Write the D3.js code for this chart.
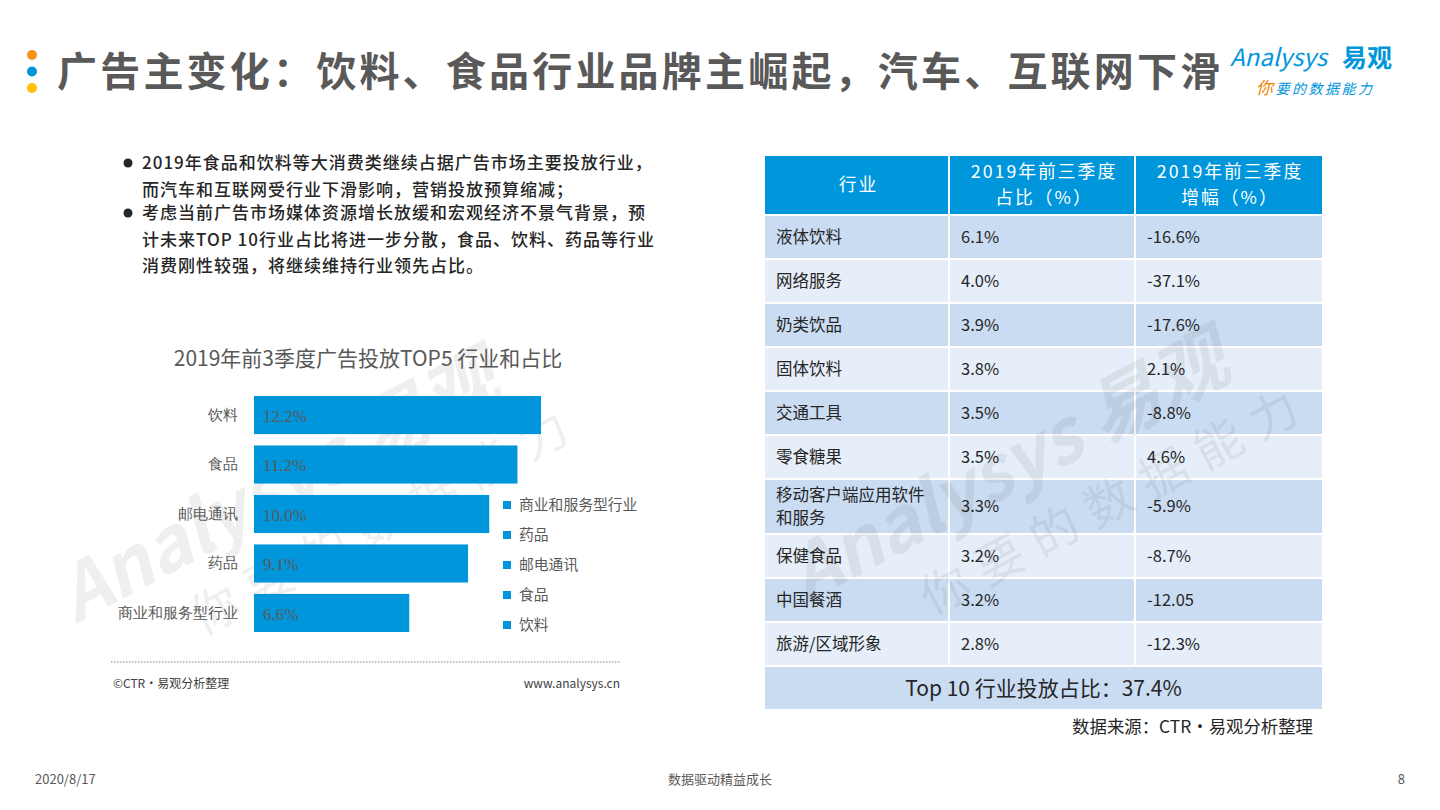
<!DOCTYPE html>
<html>
<head>
  <meta charset="utf-8">
  <script src="https://d3js.org/d3.v7.min.js"></script>
  <style>
    body { margin: 0; background: #fff; }
    svg { display: block; font-family: "Noto Sans CJK SC", "Noto Sans", sans-serif; }
    .cat-label { font-size: 15px; fill: #595959; text-anchor: end; }
    .val-label { font: 17px "Liberation Serif", serif; fill: #595959; }
    .legend-label { font-size: 14.8px; fill: #595959; }
    .bullet { font-size: 17px; fill: #262626; font-weight: 500; letter-spacing: 1px; }
    .cell { font-size: 16.5px; fill: #262626; }
    .head { font-size: 17.8px; fill: #fff; text-anchor: middle; letter-spacing: 2px; }
  </style>
</head>
<body>
  <svg width="1440" height="810"></svg>
  <script>
    var svg = d3.select("svg");

    // bar chart data
    var industries = ["饮料", "食品", "邮电通讯", "药品", "商业和服务型行业"];
    var shares = [12.2, 11.2, 10.0, 9.1, 6.6];

    // table data
    var tableHeaders = [["行业"], ["2019年前三季度", "占比（%）"], ["2019年前三季度", "增幅（%）"]];
    var tableIndustries = [["液体饮料"], ["网络服务"], ["奶类饮品"], ["固体饮料"], ["交通工具"], ["零食糖果"],
                           ["移动客户端应用软件", "和服务"], ["保健食品"], ["中国餐酒"], ["旅游/区域形象"]];
    var tableShares = ["6.1%", "4.0%", "3.9%", "3.8%", "3.5%", "3.5%", "3.3%", "3.2%", "3.2%", "2.8%"];
    var tableGrowth = ["-16.6%", "-37.1%", "-17.6%", "2.1%", "-8.8%", "4.6%", "-5.9%", "-8.7%", "-12.05", "-12.3%"];
    var tableTotal = "Top 10 行业投放占比：37.4%";

    var bullets = [
      ["2019年食品和饮料等大消费类继续占据广告市场主要投放行业，", "而汽车和互联网受行业下滑影响，营销投放预算缩减；"],
      ["考虑当前广告市场媒体资源增长放缓和宏观经济不景气背景，预", "计未来TOP 10行业占比将进一步分散，食品、饮料、药品等行业", "消费刚性较强，将继续维持行业领先占比。"]
    ];

    var blue = "#0096DC";

    function watermark(cx, cy) {
      var w = svg.append("g")
        .attr("transform", "translate(" + cx + "," + cy + ") rotate(-28)")
        .attr("fill", "#000").attr("opacity", 0.06)
        .style("pointer-events", "none");
      w.append("text").attr("x", -40).attr("y", -10).attr("text-anchor", "middle")
        .attr("font-size", 74).attr("font-weight", "bold").attr("font-style", "italic").text("Analysys 易观");
      w.append("text").attr("x", 40).attr("y", 60).attr("text-anchor", "middle")
        .attr("font-size", 48).attr("letter-spacing", 14).text("你要的数据能力");
    }

    // multi-line text in one element, lines centred on cy
    function multiline(sel, lines, xPos, cy, lh) {
      var t = sel.append("text").attr("x", xPos).attr("y", cy);
      lines.forEach(function(line, j) {
        t.append("tspan").attr("x", xPos)
          .attr("y", cy + (j - (lines.length - 1) / 2) * lh)
          .attr("dy", "0.36em").text(line);
      });
      return t;
    }

    watermark(330, 500);

    // title
    var dotColors = ["#F7941D", blue, "#FFC000"];
    svg.selectAll(".dot").data(dotColors).enter().append("circle")
      .attr("cx", 32).attr("cy", (d, i) => 55 + i * 16.5).attr("r", 5).attr("fill", d => d);
    svg.append("text").attr("x", 57).attr("y", 86)
      .attr("font-size", 40).attr("font-weight", "bold").attr("fill", "#595959").attr("letter-spacing", 3.2)
      .text("广告主变化：饮料、食品行业品牌主崛起，汽车、互联网下滑");

    // logo
    svg.append("text").attr("x", 1230).attr("y", 66).attr("font-size", 24).attr("fill", blue)
      .attr("font-style", "italic").text("Analysys");
    svg.append("text").attr("x", 1342).attr("y", 67).attr("font-size", 25).attr("font-weight", "bold").attr("fill", blue)
      .text("易观");
    var slogan = svg.append("text").attr("x", 1256).attr("y", 94).attr("font-size", 14).attr("font-style", "italic")
      .attr("letter-spacing", 2.5).attr("fill", blue);
    slogan.append("tspan").attr("fill", "#F08300").attr("font-size", 17).text("你");
    slogan.append("tspan").text("要的数据能力");

    // bullets
    var by = [169, 219];
    bullets.forEach(function(lines, i) {
      svg.append("circle").attr("cx", 128).attr("cy", by[i] - 6).attr("r", 4.5).attr("fill", "#262626");
      lines.forEach(function(t, j) {
        svg.append("text").attr("class", "bullet").attr("x", 142).attr("y", by[i] + j * 26.5).text(t);
      });
    });

    // bar chart
    svg.append("text").attr("x", 368).attr("y", 366).attr("text-anchor", "middle")
      .attr("font-size", 21).attr("fill", "#595959").text("2019年前3季度广告投放TOP5 行业和占比");

    var x = d3.scaleLinear().domain([0, 12.2]).range([254, 541]);
    var y = d3.scaleBand().domain(industries).range([390.3, 637.7]).paddingInner(0.23).paddingOuter(0.115);
    var data = industries.map((d, i) => ({name: d, value: shares[i]}));

    svg.selectAll(".bar").data(data).enter().append("rect")
      .attr("class", "bar")
      .attr("x", x(0))
      .attr("y", d => y(d.name))
      .attr("width", d => x(d.value) - x(0))
      .attr("height", y.bandwidth())
      .attr("fill", blue);

    svg.selectAll(".val-label").data(data).enter().append("text")
      .attr("class", "val-label")
      .attr("x", x(0) + 9)
      .attr("y", d => y(d.name) + y.bandwidth() / 2)
      .attr("dy", ".4em")
      .text(d => d3.format(".1f")(d.value) + "%");

    svg.append("g")
      .attr("transform", "translate(" + (x(0) - 6) + ",0)")
      .call(d3.axisLeft(y).tickSize(0).tickPadding(10))
      .call(g => g.select(".domain").remove())
      .selectAll("text")
      .attr("class", "cat-label")
      .attr("font-family", null).attr("font-size", null).attr("fill", null);

    // legend
    var legendItems = industries.slice().reverse();
    var legend = svg.selectAll(".legend").data(legendItems).enter().append("g")
      .attr("transform", (d, i) => "translate(503," + (505 + i * 30) + ")");
    legend.append("rect").attr("x", 0).attr("y", -4).attr("width", 8).attr("height", 8).attr("fill", blue);
    legend.append("text").attr("class", "legend-label").attr("x", 16).attr("dy", "0.35em").text(d => d);

    // chart footer
    svg.append("line").attr("x1", 111).attr("x2", 620).attr("y1", 662).attr("y2", 662)
      .attr("stroke", "#aaa").attr("stroke-width", 1.5).attr("stroke-dasharray", "1.5,1.5");
    svg.append("text").attr("x", 113).attr("y", 688).attr("font-size", 12).attr("fill", "#404040").text("©CTR·易观分析整理");
    svg.append("text").attr("x", 620).attr("y", 688).attr("text-anchor", "end").attr("font-size", 12).attr("fill", "#404040").text("www.analysys.cn");

    // table
    var cols = [765, 950, 1136, 1322];
    var tx = d3.scaleOrdinal().domain([0, 1, 2]).range([776, 961, 1147]);
    var headTop = 156, headH = 58, gap = 2;
    for (var c = 0; c < 3; c++) {
      svg.append("rect").attr("x", cols[c]).attr("y", headTop).attr("width", cols[c + 1] - cols[c] - (c < 2 ? 2 : 0))
        .attr("height", headH).attr("fill", blue);
      multiline(svg, tableHeaders[c], (cols[c] + cols[c + 1]) / 2 + 1, headTop + headH / 2, 26).attr("class", "head");
    }
    var rowY = headTop + headH + gap;
    tableIndustries.forEach(function(names, i) {
      var h = names.length > 1 ? 53 : 42;
      var fill = i % 2 === 0 ? "#CADCF2" : "#E6EEF9";
      for (var c = 0; c < 3; c++) {
        svg.append("rect").attr("x", cols[c]).attr("y", rowY).attr("width", cols[c + 1] - cols[c] - (c < 2 ? 2 : 0))
          .attr("height", h).attr("fill", fill);
      }
      var cy = rowY + h / 2;
      multiline(svg, names, tx(0), cy, 23).attr("class", "cell");
      svg.append("text").attr("class", "cell").attr("x", tx(1)).attr("y", cy).attr("dy", "0.36em").text(tableShares[i]);
      svg.append("text").attr("class", "cell").attr("x", tx(2)).attr("y", cy).attr("dy", "0.36em").text(tableGrowth[i]);
      rowY += h + gap;
    });
    svg.append("rect").attr("x", cols[0]).attr("y", rowY).attr("width", cols[3] - cols[0]).attr("height", 42).attr("fill", "#CADCF2");
    svg.append("text").attr("x", (cols[0] + cols[3]) / 2).attr("y", rowY + 21).attr("dy", "0.36em")
      .attr("text-anchor", "middle").attr("font-size", 21).attr("fill", "#262626").text(tableTotal);

    svg.append("text").attr("x", 1313).attr("y", 733).attr("text-anchor", "end").attr("font-size", 17.4)
      .attr("fill", "#262626").text("数据来源：CTR·易观分析整理");

    watermark(1060, 480);

    // page footer
    svg.append("text").attr("x", 35).attr("y", 784).attr("font-size", 13).attr("fill", "#595959").text("2020/8/17");
    svg.append("text").attr("x", 720).attr("y", 784).attr("text-anchor", "middle").attr("font-size", 13).attr("fill", "#595959").text("数据驱动精益成长");
    svg.append("text").attr("x", 1405).attr("y", 784).attr("text-anchor", "end").attr("font-size", 13).attr("fill", "#595959").text("8");
  </script>
</body>
</html>
